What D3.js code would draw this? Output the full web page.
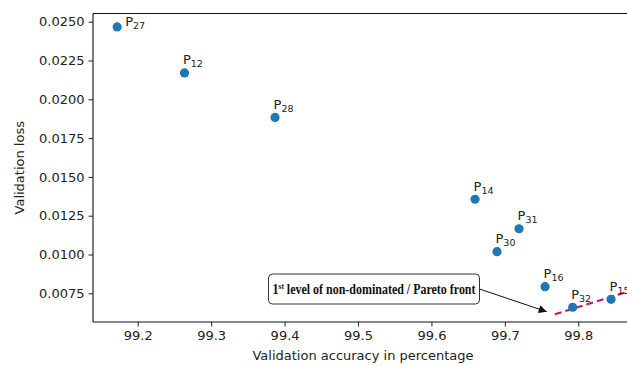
<!DOCTYPE html>
<html>
<head>
<meta charset="utf-8">
<script src="https://cdn.jsdelivr.net/npm/d3@7"></script>
<style>
  html, body { margin: 0; padding: 0; background: #fff; }
  svg { display: block; }
</style>
</head>
<body>
<script>
// ---- data ----
const pointNames = ["27", "12", "28", "14", "31", "30", "16", "32", "15"];
const accuracy   = [99.172, 99.2637, 99.387, 99.6594, 99.7193, 99.6893, 99.7547, 99.7924, 99.8446];
const loss       = [0.02466, 0.0217, 0.01883, 0.01356, 0.01166, 0.01018, 0.00793, 0.0066, 0.00711];
const paretoX    = [99.768, 99.87];
const paretoY    = [0.00615, 0.00764];
const xTicks     = [99.2, 99.3, 99.4, 99.5, 99.6, 99.7, 99.8];
const yTicks     = [0.0075, 0.0100, 0.0125, 0.0150, 0.0175, 0.0200, 0.0225, 0.0250];
const xTitle     = "Validation accuracy in percentage";
const yTitle     = "Validation loss";
const annoText   = ["1", "st", " level of non-dominated / Pareto front"];
const annoTextPos = [99.5218, 0.007777];
const annoArrowTip = [99.757, 0.006315];

// ---- layout ----
const W = 627, H = 366;
const plot = { left: 93, right: 633, top: 13.5, bottom: 322 };

const svg = d3.select("body").append("svg").attr("width", W).attr("height", H)
  .style("font-family", "'DejaVu Sans', sans-serif");

const x = d3.scaleLinear().domain([99.1391, 99.8745]).range([plot.left, plot.right]);
const y = d3.scaleLinear().domain([0.005651, 0.025528]).range([plot.bottom, plot.top]);

// clip
svg.append("defs").append("clipPath").attr("id", "clip")
  .append("rect").attr("x", plot.left).attr("y", plot.top)
  .attr("width", plot.right - plot.left).attr("height", plot.bottom - plot.top);

// arrow marker
svg.select("defs").append("marker").attr("id", "arrowhead")
  .attr("viewBox", "0 0 10 10").attr("refX", 10).attr("refY", 5)
  .attr("markerWidth", 11).attr("markerHeight", 8).attr("markerUnits", "userSpaceOnUse")
  .attr("orient", "auto")
  .append("path").attr("d", "M0,0 L10,5 L0,10 Z").attr("fill", "#111");

// axes
const xAxis = d3.axisBottom(x).tickValues(xTicks).tickFormat(d3.format(".1f")).tickSize(4.5).tickPadding(4.5);
const yAxis = d3.axisLeft(y).tickValues(yTicks).tickFormat(d3.format(".4f")).tickSize(4.5).tickPadding(4);

const gx = svg.append("g").attr("transform", `translate(0,${plot.bottom})`).call(xAxis);
const gy = svg.append("g").attr("transform", `translate(${plot.left},0)`).call(yAxis);
[gx, gy].forEach(g => {
  g.select(".domain").remove();
  g.selectAll(".tick line").attr("stroke", "#222").attr("stroke-width", 1);
  g.selectAll(".tick text").attr("fill", "#222").style("font-size", "13px")
    .style("font-family", "'DejaVu Sans', sans-serif");
});

// spines
const spine = svg.append("g").attr("stroke", "#111").attr("stroke-width", 1.1).attr("fill", "none");
spine.append("line").attr("x1", plot.left).attr("x2", plot.left).attr("y1", plot.top).attr("y2", plot.bottom);
spine.append("line").attr("x1", plot.left).attr("x2", plot.right).attr("y1", plot.bottom).attr("y2", plot.bottom);
spine.append("line").attr("x1", plot.left).attr("x2", plot.right).attr("y1", plot.top).attr("y2", plot.top);
spine.append("line").attr("x1", plot.right).attr("x2", plot.right).attr("y1", plot.top).attr("y2", plot.bottom);

// axis titles
svg.append("text").attr("x", (plot.left + plot.right) / 2).attr("y", 360)
  .attr("text-anchor", "middle").style("font-size", "13px").attr("fill", "#222").text(xTitle);
svg.append("text").attr("transform", `translate(24,${(plot.top + plot.bottom) / 2}) rotate(-90)`)
  .attr("text-anchor", "middle").style("font-size", "13px").attr("fill", "#222").text(yTitle);

// pareto dashed line
const line = d3.line().x(d => x(d[0])).y(d => y(d[1]));
svg.append("path").attr("clip-path", "url(#clip)")
  .datum(paretoX.map((v, i) => [v, paretoY[i]]))
  .attr("d", line).attr("fill", "none").attr("stroke", "#c8175d")
  .attr("stroke-width", 2).attr("stroke-dasharray", "7,4");

// points
const pts = pointNames.map((n, i) => ({ name: n, x: accuracy[i], y: loss[i] }));
svg.append("g").attr("clip-path", "url(#clip)").selectAll("circle").data(pts).join("circle")
  .attr("cx", d => x(d.x)).attr("cy", d => y(d.y)).attr("r", 4.6).attr("fill", "#1f77b4");

// point labels
const labelOffset = n => n === "27" ? [8, -0.5] : [-1.5, -8.5];
const lab = svg.append("g").selectAll("text").data(pts).join("text")
  .attr("x", d => x(d.x) + labelOffset(d.name)[0])
  .attr("y", d => y(d.y) + labelOffset(d.name)[1])
  .attr("fill", "#222");
lab.append("tspan").style("font-size", "13px").text("P");
lab.append("tspan").style("font-size", "9.5px").attr("dy", 3).text(d => d.name);

// annotation
const ax = x(annoTextPos[0]), ay = y(annoTextPos[1]);
const boxW = 211, boxH = 30;
const anno = svg.append("g");
anno.append("rect").attr("x", ax - boxW / 2).attr("y", ay - boxH / 2)
  .attr("width", boxW).attr("height", boxH).attr("rx", 4).attr("ry", 4)
  .attr("fill", "#fff").attr("stroke", "#333").attr("stroke-width", 1);
const at = anno.append("text").attr("x", ax - boxW / 2 + 4).attr("y", ay + 5)
  .style("font-family", "'Liberation Serif', 'Times New Roman', serif")
  .style("font-weight", "bold").attr("fill", "#111")
  .attr("textLength", 203).attr("lengthAdjust", "spacingAndGlyphs");
at.append("tspan").style("font-size", "14.5px").text(annoText[0]);
at.append("tspan").style("font-size", "9px").attr("dy", -5.5).text(annoText[1]);
at.append("tspan").style("font-size", "14.5px").attr("dy", 5.5).text(annoText[2]);

anno.append("line").attr("x1", ax + boxW / 2).attr("y1", ay)
  .attr("x2", x(annoArrowTip[0])).attr("y2", y(annoArrowTip[1]))
  .attr("stroke", "#111").attr("stroke-width", 1).attr("marker-end", "url(#arrowhead)");
</script>
</body>
</html>
